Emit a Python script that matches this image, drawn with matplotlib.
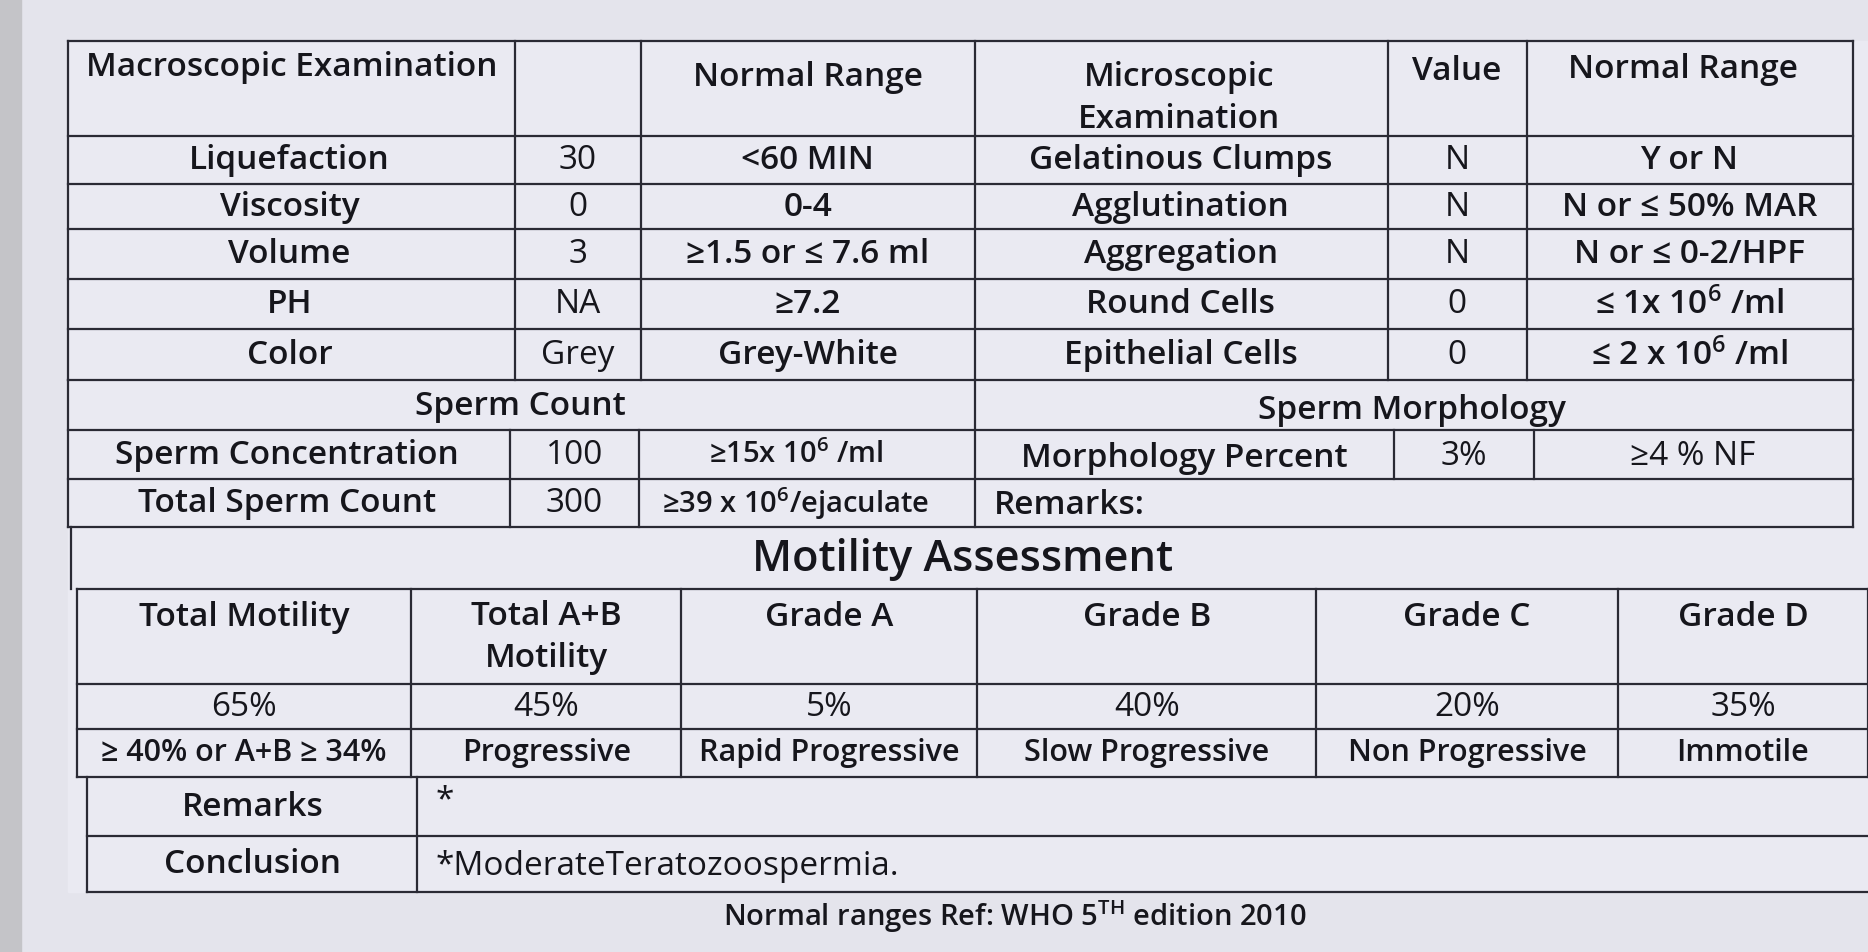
import matplotlib
matplotlib.use("Agg")
import matplotlib.pyplot as plt

plt.rcParams["mathtext.fontset"] = "custom"
plt.rcParams["mathtext.rm"] = "Open Sans:semibold"
plt.rcParams["mathtext.it"] = "Open Sans:semibold"
plt.rcParams["mathtext.default"] = "rm"

# ---- data ----
macro_header = ["Macroscopic Examination", "", "Normal Range"]
macro_params = ["Liquefaction", "Viscosity", "Volume", "PH", "Color"]
macro_values = ["30", "0", "3", "NA", "Grey"]
macro_ranges = ["<60 MIN", "0-4", "≥1.5 or ≤ 7.6 ml", "≥7.2", "Grey-White"]
micro_header = ["Microscopic\nExamination", "Value", "Normal Range"]
micro_params = ["Gelatinous Clumps", "Agglutination", "Aggregation", "Round Cells", "Epithelial Cells"]
micro_values = ["N", "N", "N", "0", "0"]
micro_ranges = ["Y or N", "N or ≤ 50% MAR", "N or ≤ 0-2/HPF", r"≤ 1x 10$^6$ /ml", r"≤ 2 x 10$^6$ /ml"]
count_params = ["Sperm Concentration", "Total Sperm Count"]
count_values = ["100", "300"]
count_ranges = [r"≥15x 10$^6$ /ml", r"≥39 x 10$^6$/ejaculate"]
morph_params = ["Morphology Percent"]
morph_values = ["3%"]
morph_ranges = ["≥4 % NF"]
mot_headers = ["Total Motility", "Total A+B\nMotility", "Grade A", "Grade B", "Grade C", "Grade D"]
mot_values = ["65%", "45%", "5%", "40%", "20%", "35%"]
mot_labels = ["≥ 40% or A+B ≥ 34%", "Progressive", "Rapid Progressive", "Slow Progressive", "Non Progressive", "Immotile"]
remarks = "*"
conclusion = "*ModerateTeratozoospermia."
footer = "Normal ranges Ref: WHO 5$^{TH}$ edition 2010"

W, H = 1568, 800
fig = plt.figure(figsize=(18.68, 9.53), dpi=100)
fig.patch.set_facecolor("#e4e4ec")
ax = fig.add_axes([0, 0, 1, 1])
ax.set_xlim(0, W); ax.set_ylim(H, 0); ax.axis("off")
ax.add_patch(plt.Rectangle((0, 0), 18, H, color="#c4c4c8"))
ax.add_patch(plt.Rectangle((57, 35), 1511, 715, color="#eaeaf2", zorder=0))

LC = "#2a2a34"; TC = "#16161c"
FS = 24
FAM = ["Open Sans", "DejaVu Sans"]
def hl(x0, x1, y): ax.plot([x0, x1], [y, y], color=LC, lw=1.6)
def vl(x, y0, y1): ax.plot([x, x], [y0, y1], color=LC, lw=1.6)
def tx(x, y, s, fs=FS, ha="center", va="center", w="semibold"):
    ax.text(x, y, s, fontsize=fs, ha=ha, va=va, color=TC, family=FAM, fontweight=w, linespacing=1.35)

cols = [57, 432, 538, 818, 1165, 1282, 1555]
rows = [35, 115, 155, 193, 235, 277, 320]
for y in rows: hl(57, 1555, y)
for x in cols: vl(x, 35, 320)
tx(245, 57, macro_header[0])
tx(678, 65, macro_header[2])
tx(990, 83, micro_header[0])
tx(1223, 60, micro_header[1])
tx(1413, 58, micro_header[2])
for i in range(5):
    yc = (rows[i+1] + rows[i+2]) / 2
    tx(243, yc, macro_params[i]); tx(485, yc, macro_values[i], w="normal")
    tx(678, yc, macro_ranges[i]); tx(991, yc, micro_params[i])
    tx(1223, yc, micro_values[i], w="normal"); tx(1418, yc, micro_ranges[i])

for y in [362, 403, 443]: hl(57, 1555, y)
vl(57, 320, 443); vl(818, 320, 443); vl(1555, 320, 443)
vl(428, 362, 443); vl(536, 362, 443)
vl(1170, 362, 403); vl(1288, 362, 403)
tx(437, 341, "Sperm Count"); tx(1185, 345, "Sperm Morphology")
for i in range(2):
    yc = 382 + 41 * i
    tx(241, yc, count_params[i]); tx(482, yc, count_values[i], w="normal")
    tx(668, yc, count_ranges[i], fs=FS - 3)
tx(994, 385, morph_params[0]); tx(1229, 383, morph_values[0], w="normal"); tx(1421, 383, morph_ranges[0], w="normal")
tx(834, 424, "Remarks:", ha="left")

tx(808, 470, "Motility Assessment", fs=FS * 1.3, w="semibold")
mcols = [65, 345, 572, 820, 1105, 1358, 1568]
for y in [495, 575, 613, 653]: hl(65, 1568, y)
vl(60, 443, 495)
for x in mcols: vl(x, 495, 653)
for i in range(6):
    xc = (mcols[i] + mcols[i+1]) / 2
    tx(xc, 518 if i != 1 else 535, mot_headers[i])
    tx(xc, 594, mot_values[i], w="normal")
    tx(xc, 632, mot_labels[i], fs=FS - 2)
for y in [703, 750]: hl(73, 1568, y)
vl(73, 653, 750); vl(350, 653, 750)
tx(212, 678, "Remarks"); tx(212, 726, "Conclusion")
tx(366, 672, remarks, ha="left", w="normal"); tx(366, 727, conclusion, ha="left", w="normal")
tx(852, 769, footer, fs=FS - 3)

fig.savefig("out.png", dpi=100, facecolor=fig.get_facecolor())
